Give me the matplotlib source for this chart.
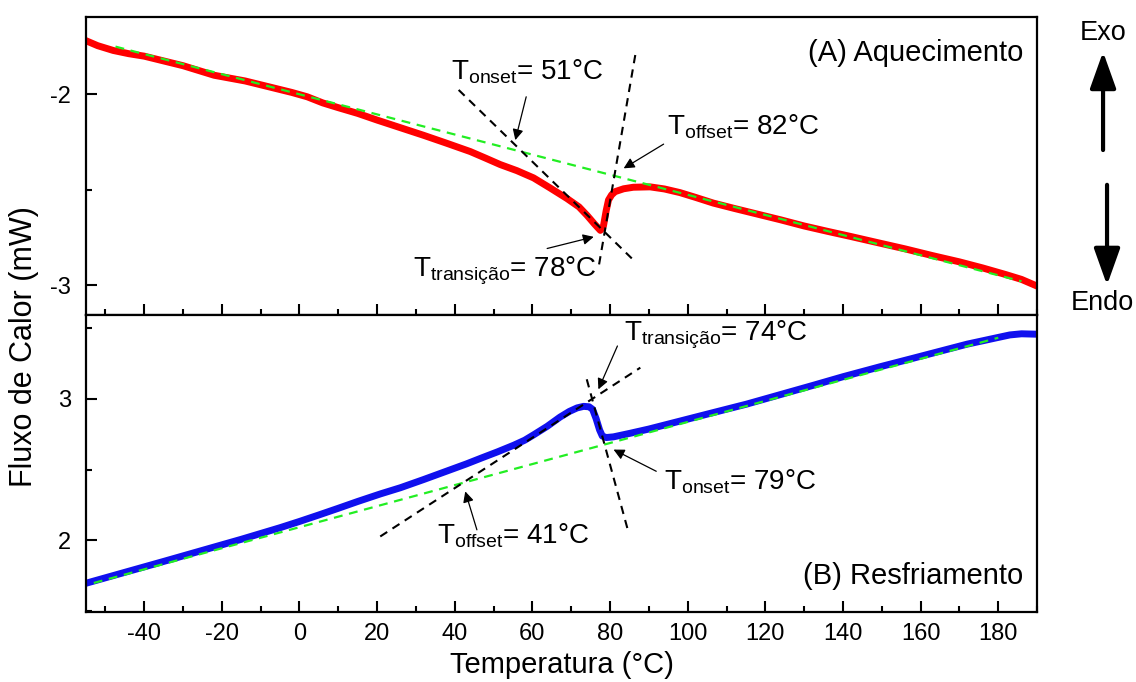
"""DSC curves: heating (A) and cooling (B)."""
import matplotlib

matplotlib.use("Agg")
import matplotlib.pyplot as plt
from matplotlib.ticker import MultipleLocator

plt.rcParams["font.family"] = ["Liberation Sans", "DejaVu Sans"]
plt.rcParams["mathtext.fontset"] = "custom"
plt.rcParams["mathtext.rm"] = "Liberation Sans"
plt.rcParams["mathtext.it"] = "Liberation Sans"
plt.rcParams["axes.unicode_minus"] = False

# (A) heating curve
heat_t = [-55, -52, -48, -44, -40, -35, -30, -26, -22, -18, -14, -10, -6, -2, 2, 6,
          10, 15, 20, 26, 32, 38, 44, 48, 51.7, 56, 60.3, 64.5, 68.9, 72, 74.1, 76,
          77.5, 78.3, 79, 79.6, 80.4, 81.3, 83.5, 86, 90.3, 94, 98, 102, 106.6, 112,
          118, 124, 130, 136, 142, 149.5, 156, 163, 170, 176, 182, 186, 190]
heat_q = [-1.719, -1.745, -1.77, -1.787, -1.80, -1.825, -1.85, -1.875, -1.90, -1.915,
          -1.93, -1.95, -1.97, -1.99, -2.013, -2.045, -2.07, -2.10, -2.135, -2.175,
          -2.215, -2.257, -2.30, -2.335, -2.368, -2.40, -2.438, -2.49, -2.546, -2.59,
          -2.635, -2.68, -2.713, -2.69, -2.61, -2.554, -2.527, -2.51, -2.495, -2.487,
          -2.485, -2.496, -2.515, -2.54, -2.57, -2.598, -2.628, -2.658, -2.69, -2.718,
          -2.745, -2.78, -2.81, -2.845, -2.878, -2.91, -2.945, -2.97, -3.005]
heat_base_t = [-47.4, 186]
heat_base_q = [-1.75, -2.98]
heat_tan1_t = [41.0, 85.6]
heat_tan1_q = [-1.977, -2.86]
heat_tan2_t = [86.5, 77.0]
heat_tan2_q = [-1.794, -2.912]

# (B) cooling curve
cool_t = [-55, -45, -35, -25, -15, -5, 0, 5, 10, 15, 20.8, 26, 32, 38, 43, 47, 51,
          55.2, 58, 60.3, 63.8, 67.1, 69.5, 71.5, 73.2, 74.6, 75.5, 76.4, 77.3, 78,
          79, 80.9, 85, 90, 98, 106, 115.2, 124, 132.4, 140, 149.5, 158, 165, 172,
          179.6, 183, 186, 190]
cool_q = [1.698, 1.775, 1.852, 1.93, 2.008, 2.09, 2.134, 2.18, 2.227, 2.275, 2.328,
          2.372, 2.43, 2.49, 2.54, 2.583, 2.625, 2.672, 2.707, 2.745, 2.805, 2.87,
          2.91, 2.935, 2.946, 2.943, 2.925, 2.86, 2.78, 2.737, 2.726, 2.731, 2.755,
          2.786, 2.842, 2.898, 2.962, 3.03, 3.095, 3.155, 3.225, 3.285, 3.335, 3.385,
          3.43, 3.45, 3.458, 3.455]
cool_base_t = [-53, 180]
cool_base_q = [1.70, 3.43]
cool_tan1_t = [20.8, 87.8]
cool_tan1_q = [2.028, 3.219]
cool_tan2_t = [74.0, 84.8]
cool_tan2_q = [3.137, 2.052]

x_ticks = [-40, -20, 0, 20, 40, 60, 80, 100, 120, 140, 160, 180]

fig = plt.figure(figsize=(11.36, 6.82), dpi=100)
ax1 = fig.add_axes([0.0757, 0.538, 0.8372, 0.437])
ax2 = fig.add_axes([0.0757, 0.1026, 0.8372, 0.4354])

dash = (0, (4, 3))
for ax in (ax1, ax2):
    ax.set_xlim(-55, 190)
    ax.set_xticks(x_ticks)
    ax.xaxis.set_minor_locator(MultipleLocator(10))
    ax.yaxis.set_minor_locator(MultipleLocator(0.5))
    ax.tick_params(which="both", direction="in", width=1.5, labelsize=17,
                   top=False, right=False)
    ax.tick_params(which="major", length=8)
    ax.tick_params(which="minor", length=4)
    ax.tick_params(axis="x", pad=8)
    ax.tick_params(axis="y", pad=11)
    for s in ax.spines.values():
        s.set_linewidth(1.6)

ax1.set_ylim(-3.157, -1.595)
ax1.set_yticks([-3, -2])
ax1.tick_params(axis="x", labelbottom=False)
ax2.set_ylim(1.495, 3.59)
ax2.set_yticks([2, 3])

# curves
ax1.plot(heat_t, heat_q, color="#ff0000", lw=5, solid_joinstyle="round", zorder=2)
ax1.plot(heat_base_t, heat_base_q, color="#22ee22", lw=1.6, ls=dash, zorder=3)
ax1.plot(heat_tan1_t, heat_tan1_q, color="k", lw=1.5, ls=dash, zorder=3)
ax1.plot(heat_tan2_t, heat_tan2_q, color="k", lw=1.5, ls=dash, zorder=3)

ax2.plot(cool_t, cool_q, color="#1010ee", lw=5, solid_joinstyle="round", zorder=2)
ax2.plot(cool_base_t, cool_base_q, color="#22ee22", lw=1.6, ls=dash, zorder=3)
ax2.plot(cool_tan1_t, cool_tan1_q, color="k", lw=1.5, ls=dash, zorder=3)
ax2.plot(cool_tan2_t, cool_tan2_q, color="k", lw=1.5, ls=dash, zorder=3)

arrow = dict(arrowstyle="-|>", color="k", lw=0.9, mutation_scale=16,
             shrinkA=0, shrinkB=0)


def mark(ax, label, sub, pos, tail, head):
    ax.text(pos[0], pos[1], r"$\mathrm{T}_{\mathrm{%s}}$= %s" % (sub, label),
            fontsize=20, ha="left", va="baseline")
    ax.annotate("", xy=head, xytext=tail, arrowprops=arrow)


mark(ax1, "51°C", "onset", (38.9, -1.921), (58.4, -2.013), (55.6, -2.24))
mark(ax1, "82°C", "offset", (94.6, -2.213), (93.8, -2.261), (83.5, -2.388))
mark(ax1, "78°C", "transição", (29.3, -2.956), (63.8, -2.808), (75.8, -2.747))

mark(ax2, "74°C", "transição", (83.5, 3.408), (81.9, 3.372), (77.0, 3.066))
mark(ax2, "79°C", "onset", (93.8, 2.358), (91.9, 2.488), (80.9, 2.641))
mark(ax2, "41°C", "offset", (35.4, 1.981), (45.7, 2.075), (42.7, 2.346))

ax1.text(0.986, 0.88, "(A) Aquecimento", transform=ax1.transAxes, fontsize=21,
         ha="right", va="center")
ax2.text(0.986, 0.12, "(B) Resfriamento", transform=ax2.transAxes, fontsize=21,
         ha="right", va="center")

ax2.set_xlabel("Temperatura (°C)", fontsize=21, labelpad=4)
fig.text(0.021, 0.492, "Fluxo de Calor (mW)", rotation=90, fontsize=22,
         ha="center", va="center")

# exo / endo indicator
fig.text(0.971, 0.951, "Exo", fontsize=19.5, ha="center", va="center")
fig.text(0.970, 0.556, "Endo", fontsize=19.5, ha="center", va="center")
big = dict(arrowstyle="-|>,head_length=1.4,head_width=0.5", color="k", lw=3,
           mutation_scale=16, shrinkA=0, shrinkB=0)
ax1.annotate("", xy=(0.971, 0.924), xytext=(0.971, 0.780),
             xycoords="figure fraction", textcoords="figure fraction",
             arrowprops=big, annotation_clip=False)
ax1.annotate("", xy=(0.9745, 0.582), xytext=(0.9745, 0.729),
             xycoords="figure fraction", textcoords="figure fraction",
             arrowprops=big, annotation_clip=False)

fig.savefig("out.png", dpi=100)
plt.close(fig)
